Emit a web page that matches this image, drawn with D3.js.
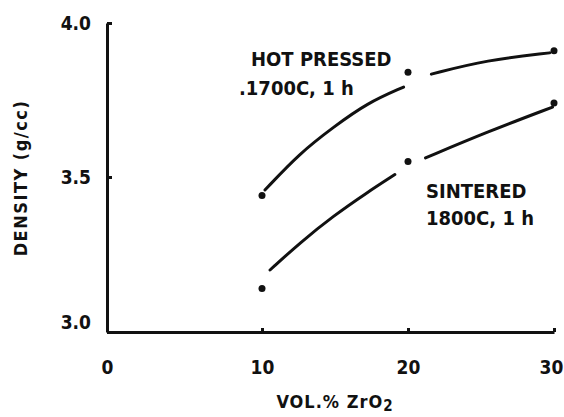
<!DOCTYPE html>
<html>
<head>
<meta charset="utf-8">
<script src="https://cdn.jsdelivr.net/npm/d3@7"></script>
<style>
  body { margin: 0; background: #fff; }
  text { font-family: "DejaVu Sans Condensed", "DejaVu Sans", sans-serif; font-weight: bold; fill: #111; }
</style>
</head>
<body>
<script>
// data
var xTicks = [0, 10, 20, 30];
var yTicks = [3.0, 3.5, 4.0];
var yTickLabels = ["3.0", "3.5", "4.0"];

var volPct = [10, 20, 30];
var hotPressed = [3.44, 3.84, 3.91];
var sintered = [3.14, 3.55, 3.74];

// hand drawn fit curves (broken near the points)
var hotFitA = [[10.2, 3.458], [12.6, 3.578], [14.9, 3.662], [17.2, 3.740], [19.7, 3.792]];
var hotFitB = [[21.6, 3.834], [25.4, 3.880], [29.7, 3.903]];
var sinFitA = [[10.55, 3.20], [12.6, 3.288], [14.9, 3.375], [17.2, 3.450], [19.1, 3.508]];
var sinFitB = [[21.2, 3.562], [25.4, 3.646], [29.9, 3.727]];

var width = 564, height = 417;

var svg = d3.select("body")
    .append("svg")
    .attr("width", width)
    .attr("height", height);

// the scan is a bit stretched, so scales are piecewise
var x = d3.scaleLinear()
    .domain([0, 10, 20, 30])
    .range([107, 262, 408, 554]);
var y = d3.scaleLinear()
    .domain([3.0, 3.5, 4.0])
    .range([332, 177, 23]);

// x axis
var gx = svg.append("g")
    .attr("transform", "translate(0," + y(3.0) + ")")
    .call(d3.axisBottom(x).tickValues(xTicks).tickSizeInner(-4).tickSizeOuter(0).tickPadding(29).tickFormat(d3.format("d")));
gx.selectAll("text").style("font-size", "19px").attr("fill", "#111")
    .attr("dx", function (d) { return d === 30 ? "-3" : "0"; });

// y axis
var gy = svg.append("g")
    .attr("transform", "translate(" + x(0) + ",0)")
    .call(d3.axisLeft(y).tickValues(yTicks).tickSizeInner(-5).tickSizeOuter(0).tickPadding(16)
        .tickFormat(function (d, i) { return yTickLabels[i]; }));
gy.selectAll("text").style("font-size", "19px").attr("fill", "#111")
    .attr("dy", function (d) { return d === 3.0 ? "-0.2em" : "0.32em"; });

svg.selectAll(".domain, .tick line")
    .attr("stroke", "#111")
    .attr("stroke-width", 3);

// axis titles
svg.append("text")
    .attr("x", 335)
    .attr("y", 408)
    .attr("text-anchor", "middle")
    .style("font-size", "18px")
    .style("letter-spacing", "1px")
    .html('VOL.% ZrO<tspan dy="3" font-size="15px">2</tspan>');

svg.append("text")
    .attr("transform", "translate(27,178) rotate(-90)")
    .attr("text-anchor", "middle")
    .style("font-size", "18px")
    .style("letter-spacing", "1.5px")
    .text("DENSITY (g/cc)");

// fit curves
var line = d3.line()
    .x(function (d) { return x(d[0]); })
    .y(function (d) { return y(d[1]); })
    .curve(d3.curveBasis);

[hotFitA, hotFitB, sinFitA, sinFitB].forEach(function (seg) {
    svg.append("path")
        .datum(seg)
        .attr("fill", "none")
        .attr("stroke", "#111")
        .attr("stroke-width", 3)
        .attr("stroke-linecap", "round")
        .attr("d", line);
});

// data points
svg.selectAll(".hp")
    .data(volPct)
    .enter().append("circle")
    .attr("cx", function (d) { return x(d); })
    .attr("cy", function (d, i) { return y(hotPressed[i]); })
    .attr("r", 3.5)
    .attr("fill", "#111");

svg.selectAll(".sn")
    .data(volPct)
    .enter().append("circle")
    .attr("cx", function (d) { return x(d); })
    .attr("cy", function (d, i) { return y(sintered[i]); })
    .attr("r", 3.5)
    .attr("fill", "#111");

// curve labels
svg.append("text").attr("x", 251).attr("y", 66).style("font-size", "20px").text("HOT PRESSED");
svg.append("text").attr("x", 239).attr("y", 95).style("font-size", "20px").text(".1700C, 1 h");
svg.append("text").attr("x", 426).attr("y", 198).style("font-size", "20px").text("SINTERED");
svg.append("text").attr("x", 426).attr("y", 225).style("font-size", "20px").text("1800C, 1 h");
</script>
</body>
</html>
